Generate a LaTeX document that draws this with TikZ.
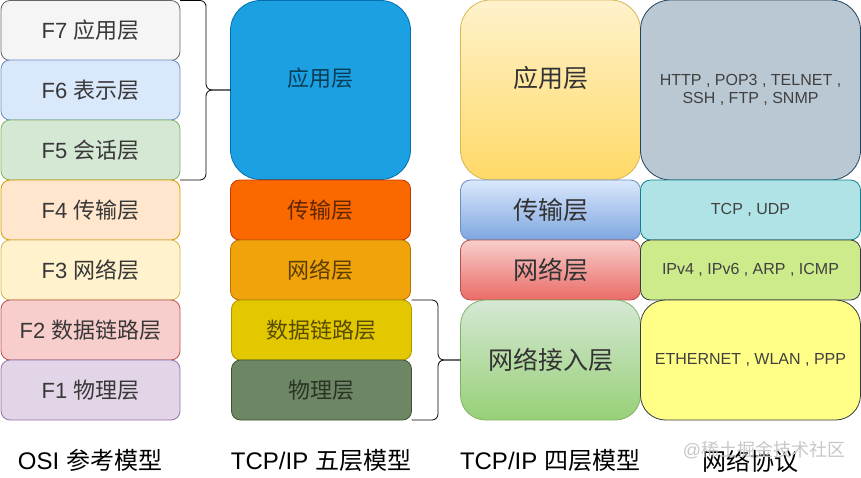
\documentclass[tikz,border=0pt]{standalone}
\usepackage{fontspec}
\setmainfont{Liberation Sans}
\newfontfamily\cjk{Noto Sans CJK SC}
\newcommand\zh[1]{{\cjk #1}}
\begin{document}
\begin{tikzpicture}[x=1pt,y=-1pt,
  box/.style={rectangle, inner sep=0pt, outer sep=0pt, line width=0.8pt, align=center, text=black!78},
  osi/.style={box, minimum width=179pt, minimum height=60pt, rounded corners=9pt, font=\fontsize{22}{26}\selectfont},
  five/.style={box, minimum width=180pt, rounded corners=9pt, font=\fontsize{22}{26}\selectfont, text opacity=0.62, text=black},
  four/.style={box, minimum width=180pt, font=\fontsize{25}{29}\selectfont, text=black!80},
  proto/.style={box, minimum width=220pt, font=\fontsize{16}{18}\selectfont, text=black!75},
  title/.style={inner sep=0pt, font=\fontsize{24}{28}\selectfont, text=black},
  bracestyle/.style={draw=black, line width=0.8pt, rounded corners=6pt}
]
\useasboundingbox (0,0) rectangle (861,477);
% OSI column
\node[osi, fill={rgb,255:red,245;green,245;blue,245}, draw={rgb,255:red,102;green,102;blue,102}] (f7) at (90.5,30.5) {F7 \zh{应用层}};
\node[osi, fill={rgb,255:red,218;green,232;blue,252}, draw={rgb,255:red,108;green,142;blue,191}] (f6) at (90.5,90) {F6 \zh{表示层}};
\node[osi, fill={rgb,255:red,213;green,232;blue,212}, draw={rgb,255:red,130;green,179;blue,102}] (f5) at (90.5,150) {F5 \zh{会话层}};
\node[osi, fill={rgb,255:red,255;green,230;blue,204}, draw={rgb,255:red,215;green,155;blue,0}] (f4) at (90.5,210) {F4 \zh{传输层}};
\node[osi, fill={rgb,255:red,255;green,242;blue,204}, draw={rgb,255:red,214;green,182;blue,86}] (f3) at (90.5,270) {F3 \zh{网络层}};
\node[osi, fill={rgb,255:red,248;green,206;blue,204}, draw={rgb,255:red,184;green,84;blue,80}] (f2) at (90.5,330) {F2 \zh{数据链路层}};
\node[osi, fill={rgb,255:red,225;green,213;blue,231}, draw={rgb,255:red,150;green,115;blue,166}] (f1) at (90.5,390) {F1 \zh{物理层}};
% TCP/IP five layers
\node[five, minimum height=179pt, rounded corners=30pt, fill={rgb,255:red,27;green,161;blue,226}, draw={rgb,255:red,0;green,110;blue,175}] (p5) at (320.5,90) {};
\node[font=\fontsize{22}{26}\selectfont, text=black, text opacity=0.62, inner sep=0pt] (p5t) at (p5.center) [yshift=12pt] {\zh{应用层}};
\node[five, minimum height=60pt, fill={rgb,255:red,250;green,104;blue,0}, draw={rgb,255:red,199;green,53;blue,0}] (p4) at (320.5,210) {\zh{传输层}};
\node[five, minimum height=60pt, fill={rgb,255:red,240;green,163;blue,10}, draw={rgb,255:red,189;green,112;blue,0}] (p3) at (320.5,270) {\zh{网络层}};
\node[five, minimum height=60pt, fill={rgb,255:red,227;green,200;blue,0}, draw={rgb,255:red,176;green,149;blue,0}] (p2) at (321.5,330) {\zh{数据链路层}};
\node[five, minimum height=60pt, fill={rgb,255:red,109;green,135;blue,100}, draw={rgb,255:red,58;green,84;blue,49}] (p1) at (321.5,390) {\zh{物理层}};
% TCP/IP four layers
\node[four, minimum height=180pt, rounded corners=30pt, top color={rgb,255:red,255;green,242;blue,204}, bottom color={rgb,255:red,255;green,217;blue,102}, draw={rgb,255:red,214;green,182;blue,86}] (q4) at (550.5,90) {};
\node[font=\fontsize{25}{29}\selectfont, text=black!80, inner sep=0pt] (q4t) at (q4.center) [yshift=12pt] {\zh{应用层}};
\node[four, minimum height=60pt, rounded corners=10pt, top color={rgb,255:red,218;green,232;blue,252}, bottom color={rgb,255:red,126;green,166;blue,224}, draw={rgb,255:red,108;green,142;blue,191}] (q3) at (550.5,210) {\zh{传输层}};
\node[four, minimum height=60pt, rounded corners=10pt, top color={rgb,255:red,248;green,206;blue,204}, bottom color={rgb,255:red,234;green,107;blue,102}, draw={rgb,255:red,184;green,84;blue,80}] (q2) at (550.5,270) {\zh{网络层}};
\node[four, minimum height=120pt, rounded corners=25pt, top color={rgb,255:red,213;green,232;blue,212}, bottom color={rgb,255:red,151;green,208;blue,119}, draw={rgb,255:red,130;green,179;blue,102}] (q1) at (550.5,360) {\zh{网络接入层}};
% Protocols
\node[proto, minimum height=180pt, rounded corners=30pt, fill={rgb,255:red,186;green,200;blue,211}, draw={rgb,255:red,35;green,68;blue,93}] (r4) at (750.5,90) {HTTP , POP3 , TELNET ,\\ SSH , FTP , SNMP};
\node[proto, minimum height=60pt, rounded corners=10pt, fill={rgb,255:red,176;green,227;blue,230}, draw={rgb,255:red,14;green,128;blue,136}] (r3) at (750.5,210) {TCP , UDP};
\node[proto, minimum height=60pt, rounded corners=10pt, fill={rgb,255:red,205;green,235;blue,139}, draw={rgb,255:red,54;green,57;blue,61}] (r2) at (750.5,270) {IPv4 , IPv6 , ARP , ICMP};
\node[proto, minimum height=120pt, rounded corners=25pt, fill={rgb,255:red,255;green,255;blue,136}, draw={rgb,255:red,54;green,57;blue,61}] (r1) at (750.5,360) {ETHERNET , WLAN , PPP};
% braces
\coordinate (b1) at (206,90);
\draw[bracestyle] (f7.north east) -- (b1 |- f7.north east) -- (b1) -- (p5.west);
\draw[bracestyle] (f5.south east) -- (b1 |- f5.south east) -- (b1) -- (p5.west);
\coordinate (b2) at (438,360);
\draw[bracestyle] (p2.north east) -- (b2 |- p2.north east) -- (b2) -- (q1.west);
\draw[bracestyle] (p1.south east) -- (b2 |- p1.south east) -- (b2) -- (q1.west);
% titles
\node[title] (t1) at (90,460) {OSI \zh{参考模型}};
\node[title] (t2) at (321,460) {TCP/IP \zh{五层模型}};
\node[title] (t3) at (550,460) {TCP/IP \zh{四层模型}};
\node[title] (t4) at (750,461) {\zh{网络协议}};
\node[inner sep=0pt, font=\fontsize{18}{20}\selectfont, text=black!22] (wm) at (764,450) {@\zh{稀土掘金技术社区}};
\end{tikzpicture}
\end{document}
